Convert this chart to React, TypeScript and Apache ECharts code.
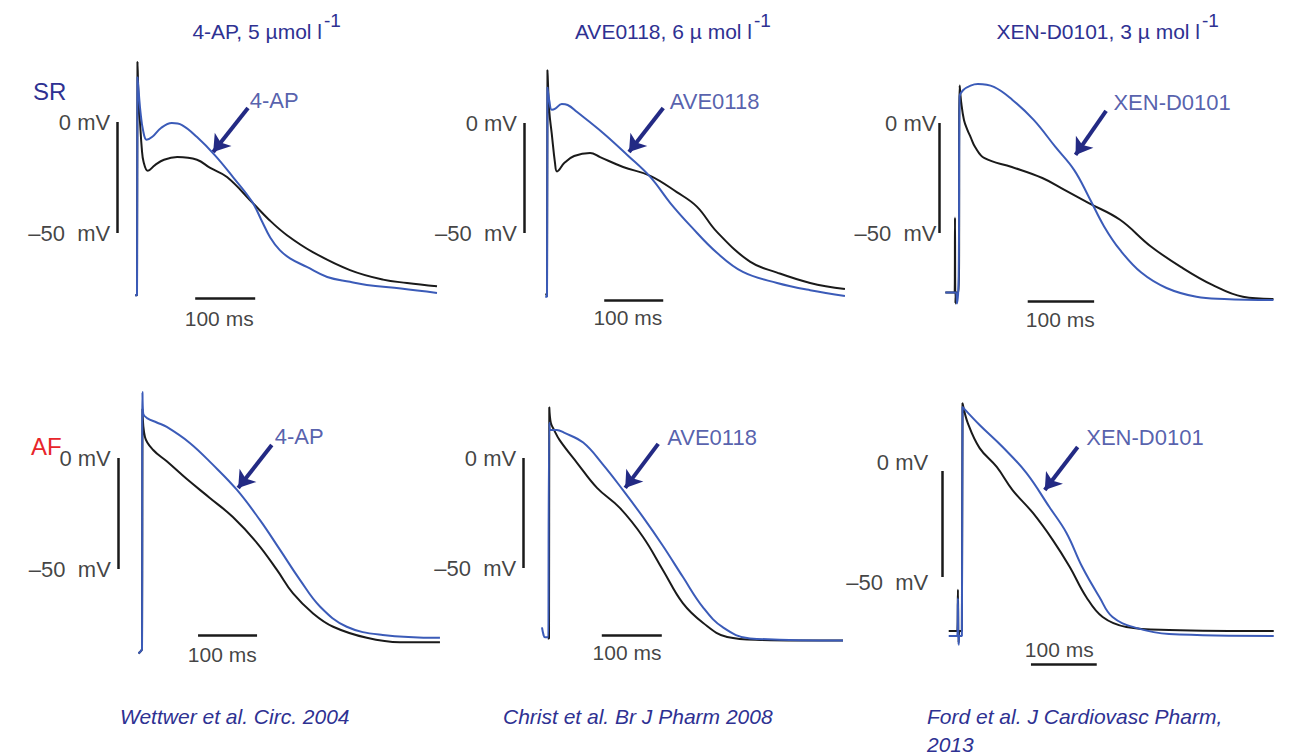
import React, { useEffect, useRef } from 'react';
import * as echarts from 'echarts';

// ---------- data: [time (ms), membrane potential (mV)] ----------
const sr4apControl = [[-3,-78],[0,-78],[0.8,27],[3,8],[5,0],[8,-12],[11,-18],[18,-22],[30,-19.4],[45,-17],[67,-15.8],[100,-17],[122,-20.7],[150,-24.8],[193,-36.5],[220,-44],[250,-51],[293,-58.6],[355,-66.7],[410,-71],[450,-72.5],[500,-74]];
const sr4apDrug = [[-3,-78],[0,-78],[0.8,20],[3,13],[6,4],[10,-3.6],[16,-8],[25,-6.8],[40,-2.7],[58,-0.5],[75,-1.4],[100,-6.8],[130,-15],[160,-24.8],[192,-36],[207,-44],[222,-52],[238,-57.7],[255,-61.4],[283,-65.3],[317,-69.8],[355,-72],[383,-73.4],[440,-75],[500,-77]];

const srAveControl = [[-3,-78],[0,-78],[0.8,24],[4,5],[8,-4.7],[13.6,-18.2],[17,-22],[30,-18],[46,-15],[73,-13.6],[90,-15.5],[129,-20],[175,-24],[220,-31.4],[254,-38],[288,-49.5],[344,-63],[390,-68],[446,-72.7],[505,-75.5]];
const srAveDrug = [[-3,-79],[0,-79],[0.8,16],[4,10],[8,6],[14,6.5],[25,8.6],[35,8.2],[51,5],[95,-4.5],[136,-14.5],[175,-24.5],[209,-36.4],[244,-47],[288,-59],[332,-67.7],[390,-72.7],[446,-76],[505,-78.6]];

const srXenControl = [[-20,-77],[-6,-77],[-5.5,-43],[-4.8,-82],[-3.5,-77],[0,-77],[1.5,17],[4,9],[8,1.4],[13,-3],[18,-6.4],[25,-11],[39,-16],[80,-20],[126,-25],[160,-30.5],[196,-36.4],[243,-44],[289,-56],[335,-65.5],[382,-73.6],[428,-79],[474,-80]];
const srXenDrug = [[-20,-77],[-4,-77],[-2.5,-82],[0,-70],[1.5,12],[7,15],[18,17],[29,17.7],[53,16.4],[81,10.5],[113,1.4],[146,-11],[174,-21.4],[196,-33.6],[219,-47],[243,-57.7],[275,-68],[313,-75],[358,-79],[400,-80],[474,-80.5]];

const af4apControl = [[-6,-88],[-2,-87],[0,-86],[0.8,22],[5,9.5],[19,3.6],[42,-1.5],[76,-9.5],[115,-18],[154,-26.6],[195,-38.3],[229,-50.5],[256,-61],[290,-70],[324,-76],[381,-81],[437,-83],[505,-83]];
const af4apDrug = [[-6,-88],[-2,-87],[0,-86],[0.8,29.7],[2,20],[8.5,18],[25,16],[42,14],[81,6.8],[120,-3],[161,-14.4],[200,-28],[234,-41.4],[268,-55],[302,-67],[347,-76],[408,-79.7],[505,-81]];

const afAveControl = [[-2,-82],[0,-82],[0.5,23],[3,16],[8,13],[18,8],[47,-2.3],[80,-13.6],[118,-22.7],[157,-36],[190,-51],[223,-66],[257,-75],[297,-81.4],[352,-82.7],[490,-83]];
const afAveDrug = [[-11.7,-77],[-9,-80.5],[-6.7,-81.5],[-1,-81.5],[0,-81.5],[0.5,16],[3,12.7],[13,12.7],[25,11.5],[57,7],[90,-3],[123,-14.5],[157,-27],[190,-40],[223,-54],[257,-68],[290,-77],[335,-82],[490,-83]];

const afXenControl = [[-20,-75.5],[-7,-75.5],[-6,-56],[-5,-81],[-3.5,-75.5],[0,-75.5],[1,32],[9,22.6],[27,10.8],[53,1.9],[77,-9],[108,-19.8],[138,-32.5],[164,-45.3],[189,-59.4],[214,-68.9],[250,-73.6],[315,-75],[474,-75.5]];
const afXenDrug = [[-20,-77.8],[-7,-77.8],[-6,-60],[-5,-82],[-3.5,-77.8],[0,-77.8],[1,30.2],[27,21.7],[62,11.3],[98,-0.9],[133,-17],[159,-29.2],[183,-45.3],[209,-59.4],[229,-68.9],[265,-74],[315,-76.9],[474,-77.8]];

// ---------- annotations (data units) ----------
const drugNames = ['4-AP', 'AVE0118', 'XEN-D0101', '4-AP', 'AVE0118', 'XEN-D0101'];
const titles = ['4-AP, 5 µmol l', 'AVE0118, 6 µ mol l', 'XEN-D0101, 3 µ mol l'];
const titleSup = '-1';
const citations = ['Wettwer et al. Circ. 2004', 'Christ et al. Br J Pharm 2008', 'Ford et al. J Cardiovasc Pharm,', '2013'];
const rowLabels = ['SR', 'AF'];
// vertical 50 mV scale bar: time position
const vBarT = [-33, -39, -29, -41, -43, -30];
// "0 mV" / "-50 mV" label heights
const zeroLabelMv = [0, 0, 0, 0, 0, 4.2];
const minusLabelMv = [-50, -50, -50, -50, -50, -52.4];
// horizontal 100 ms scale bar: [start, end, level]
const hBar = [[97,197,-79.3],[97,197,-80.5],[104,204,-81],[95,195,-80],[88,188,-80.5],[105,205,-91]];
const msLabel = [[137,-88.3],[137,-88.6],[153,-89.5],[136,-88.7],[130,-88.6],[148,-84]];
// arrow [fromT, fromV, toT, toV]
const arrows = [[185,6.3,127,-13.5],[197,6.8,139,-13.2],[222,5.5,176,-14.5],[220,5.9,163,-13.5],[182,6.4,127,-13.6],[176,11.3,126,-9]];
const drugLabelPos = [[188,9.9],[208,10],[233,9.1],[225,9.5],[197,9.5],[189,16]];

const controls = [sr4apControl, srAveControl, srXenControl, af4apControl, afAveControl, afXenControl];
const drugs = [sr4apDrug, srAveDrug, srXenDrug, af4apDrug, afAveDrug, afXenDrug];

// ---------- layout (pixel calibration of each panel) ----------
const layout = [
  { x0: 137, sx: 0.6, y0: 122, sy: 2.22, gap: 7 },
  { x0: 547, sx: 0.59, y0: 123, sy: 2.2, gap: 7 },
  { x0: 962, sx: 0.72, y0: 123, sy: 2.2, gap: 3 },
  { x0: 142, sx: 0.59, y0: 458, sy: 2.22, gap: 7 },
  { x0: 549, sx: 0.6, y0: 458, sy: 2.2, gap: 7 },
  { x0: 962, sx: 0.66, y0: 471, sy: 2.12, gap: 14 },
];
const X_MIN = -60, X_MAX = 520, Y_MIN = -100, Y_MAX = 40;

const FONT = '"Liberation Sans", Arial, Helvetica, sans-serif';
const NAVY = '#2e3192';
const ARROW = '#232a84';
const LABEL_BLUE = '#2b3898';
const TRACE_BLUE = '#3b5bb8';
const TRACE_BLACK = '#1a1a1a';
const RED = '#e8252b';

function buildOption() {
  const grid: any[] = [];
  const xAxis: any[] = [];
  const yAxis: any[] = [];
  const series: any[] = [];

  layout.forEach((L, i) => {
    grid.push({
      left: L.x0 + X_MIN * L.sx,
      top: L.y0 - Y_MAX * L.sy,
      width: (X_MAX - X_MIN) * L.sx,
      height: (Y_MAX - Y_MIN) * L.sy,
      containLabel: false,
    });
    xAxis.push({ type: 'value', gridIndex: i, min: X_MIN, max: X_MAX, show: false });
    yAxis.push({ type: 'value', gridIndex: i, min: Y_MIN, max: Y_MAX, show: false });

    const common = { xAxisIndex: i, yAxisIndex: i, type: 'line', showSymbol: false, symbol: 'none', silent: true, clip: false, smooth: 0.4 };
    series.push({ ...common, name: 'control-' + i, data: controls[i], lineStyle: { color: TRACE_BLACK, width: 2 }, z: 2 });
    series.push({ ...common, name: 'drug-' + i, data: drugs[i], lineStyle: { color: TRACE_BLUE, width: 2 }, z: 3 });

    const txt = { fontFamily: FONT, fontSize: 22, color: '#111111' };
    series.push({
      type: 'scatter', xAxisIndex: i, yAxisIndex: i, symbolSize: 0, silent: true, z: 5,
      data: [
        { value: [vBarT[i], zeroLabelMv[i]], label: { show: true, position: 'left', distance: L.gap, formatter: '0 mV', ...txt } },
        { value: [vBarT[i], minusLabelMv[i]], label: { show: true, position: 'left', distance: L.gap, formatter: '\u201350  mV', ...txt } },
        { value: msLabel[i], label: { show: true, position: 'inside', formatter: '100 ms', ...txt, fontSize: 21 } },
        { value: drugLabelPos[i], label: { show: true, position: 'right', distance: 0, formatter: drugNames[i], ...txt, color: LABEL_BLUE } },
      ],
      markLine: {
        silent: true, symbol: 'none', animation: false,
        label: { show: false },
        lineStyle: { color: '#1a1a1a', width: 2.5, type: 'solid' },
        emphasis: { disabled: true },
        data: [
          [{ coord: [vBarT[i], 0] }, { coord: [vBarT[i], -50] }],
          [{ coord: [hBar[i][0], hBar[i][2]] }, { coord: [hBar[i][1], hBar[i][2]] }],
        ],
      },
    });
    const a = arrows[i];
    series.push({
      type: 'scatter', xAxisIndex: i, yAxisIndex: i, symbolSize: 0, silent: true, z: 6, data: [],
      markLine: {
        silent: true, animation: false,
        symbol: ['none', 'arrow'], symbolSize: 16,
        label: { show: false },
        lineStyle: { color: ARROW, width: 4, type: 'solid' },
        itemStyle: { color: ARROW },
        emphasis: { disabled: true },
        data: [[{ coord: [a[0], a[1]] }, { coord: [a[2], a[3]] }]],
      },
    });
  });

  // right end of each title's main text
  const titleRight = [322, 752, 1200];
  const graphic: any[] = [];
  titles.forEach((t, i) => {
    graphic.push({ type: 'text', x: titleRight[i], y: 31, silent: true, style: { text: t, fill: NAVY, font: '21px ' + FONT, align: 'right', verticalAlign: 'middle' } });
    graphic.push({ type: 'text', x: titleRight[i] + 2, y: 20, silent: true, style: { text: titleSup, fill: NAVY, font: '19px ' + FONT, align: 'left', verticalAlign: 'middle' } });
  });
  graphic.push({ type: 'text', x: 33, y: 91, silent: true, style: { text: rowLabels[0], fill: NAVY, font: '24px ' + FONT, align: 'left', verticalAlign: 'middle' } });
  graphic.push({ type: 'text', x: 31, y: 446, silent: true, style: { text: rowLabels[1], fill: RED, font: '24px ' + FONT, align: 'left', verticalAlign: 'middle' } });
  const citeX = [120, 503, 927, 927];
  const citeY = [716, 716, 716, 744];
  citations.forEach((c, i) => {
    graphic.push({ type: 'text', x: citeX[i], y: citeY[i], silent: true, style: { text: c, fill: NAVY, font: 'italic 21px ' + FONT, align: 'left', verticalAlign: 'middle' } });
  });

  return { animation: false, backgroundColor: '#ffffff', grid, xAxis, yAxis, series, graphic, tooltip: { show: false } };
}

export default function App() {
  const ref = useRef<HTMLDivElement>(null);
  useEffect(() => {
    const chart = echarts.init(ref.current as HTMLDivElement, null, { renderer: 'svg' });
    chart.setOption(buildOption() as any);
    return () => chart.dispose();
  }, []);
  return <div ref={ref} style={{ position: 'relative', left: -8, top: -8, width: 1304, height: 755, background: '#fff' }} />;
}
